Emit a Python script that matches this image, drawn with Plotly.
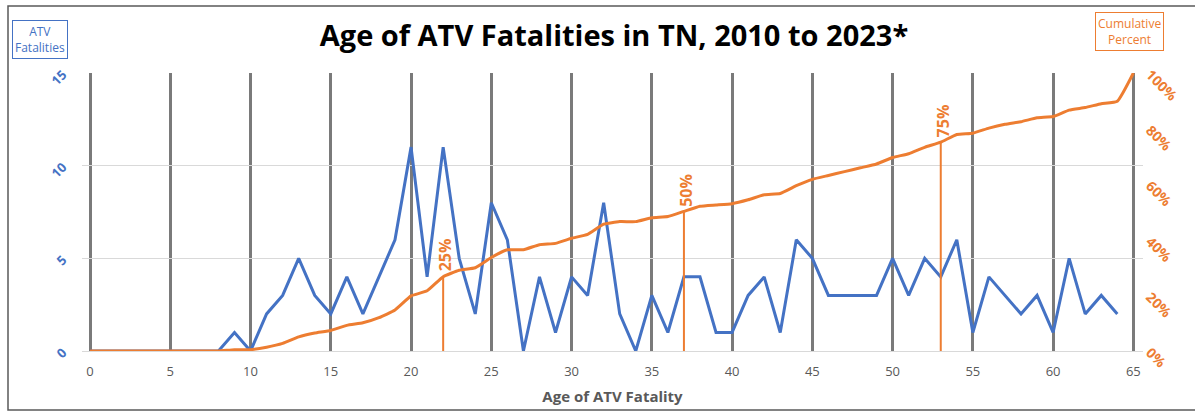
import plotly.graph_objects as go

ages = list(range(0, 66))
fatalities = [0, 0, 0, 0, 0, 0, 0, 0, 0, 1,
              0, 2, 3, 5, 3, 2, 4, 2, 4, 6,
              11, 4, 11, 5, 2, 8, 6, 0, 4, 1,
              4, 3, 8, 2, 0, 3, 1, 4, 4, 1,
              1, 3, 4, 1, 6, 5, 3, 3, 3, 3,
              5, 3, 5, 4, 6, 1, 4, 3, 2, 3,
              1, 5, 2, 3, 2]
fat_ages = ages[:65]
cum_pct = [0, 0, 0, 0, 0, 0, 0, 0, 0, 0.46,
           0.46, 1.38, 2.76, 5.07, 6.45, 7.37, 9.22, 10.14, 11.98, 14.75,
           19.82, 21.66, 26.73, 29.03, 29.95, 33.64, 36.41, 36.41, 38.25, 38.71,
           40.55, 41.94, 45.62, 46.54, 46.54, 47.93, 48.39, 50.23, 52.07, 52.53,
           53.00, 54.38, 56.22, 56.68, 59.45, 61.75, 63.13, 64.52, 65.90, 67.28,
           69.59, 70.97, 73.27, 75.12, 77.88, 78.34, 80.18, 81.57, 82.49, 83.87,
           84.33, 86.64, 87.56, 88.94, 89.86, 100.0]
quart_labels = ["25%", "50%", "75%"]
quart_ages = [22, 37, 53]
quart_vals = [26.73, 50.23, 75.12]

BLUE = "#4472C4"
ORANGE = "#ED7D31"
GREY = "#595959"
FONT = "'Open Sans', sans-serif"

W, H = 1195, 412
L, R, T, B = 82, 52, 73, 61
pw, ph = W - L - R, H - T - B

def px(x):
    return (x - L) / pw

def py(y):
    return (H - B - y) / ph

fig = go.Figure()

fig.add_trace(go.Scatter(x=fat_ages, y=fatalities, mode="lines",
                         line=dict(color=BLUE, width=3), name="ATV Fatalities",
                         yaxis="y"))
fig.add_trace(go.Scatter(x=ages, y=cum_pct, mode="lines",
                         line=dict(color=ORANGE, width=3, shape="spline", smoothing=0.4),
                         name="Cumulative Percent", yaxis="y2"))
for a, v in zip(quart_ages, quart_vals):
    fig.add_trace(go.Scatter(x=[a, a], y=[0, v], mode="lines",
                             line=dict(color=ORANGE, width=2), yaxis="y2",
                             showlegend=False, hoverinfo="skip"))

annotations = []
for lab, a, v in zip(quart_labels, quart_ages, quart_vals):
    annotations.append(dict(x=a, y=v, xref="x", yref="y2", text=f"<b>{lab}</b>",
                            showarrow=False, textangle=-90, xanchor="center",
                            yanchor="bottom", yshift=3, xshift=2,
                            font=dict(color=ORANGE, size=16, family=FONT)))

annotations.append(dict(x=px(40), y=py(39.5), xref="paper", yref="paper",
                        text="ATV<br>Fatalities", showarrow=False,
                        font=dict(color=BLUE, size=12, family=FONT),
                        bordercolor=BLUE, borderwidth=1, borderpad=2,
                        bgcolor="white", xanchor="center", yanchor="middle"))
annotations.append(dict(x=px(1129), y=py(31), xref="paper", yref="paper",
                        text="Cumulative<br>Percent", showarrow=False,
                        font=dict(color=ORANGE, size=12, family=FONT),
                        bordercolor=ORANGE, borderwidth=1, borderpad=2,
                        bgcolor="white", xanchor="center", yanchor="middle"))

shapes = [dict(type="rect", xref="paper", yref="paper",
               x0=px(8), x1=px(1205), y0=py(410), y1=py(6),
               line=dict(color=GREY, width=1.5), fillcolor="rgba(0,0,0,0)",
               layer="below")]

fig.update_layout(
    width=W, height=H,
    margin=dict(l=L, r=R, t=T, b=B, autoexpand=False),
    paper_bgcolor="white", plot_bgcolor="white",
    showlegend=False,
    title=dict(text="<b>Age of ATV Fatalities in TN, 2010 to 2023*</b>",
               xref="container", x=614 / W, xanchor="center",
               y=1 - 36 / H, yanchor="middle",
               font=dict(size=29, color="black", family=FONT)),
    xaxis=dict(range=[-0.5, 65.6], tickmode="linear", tick0=0, dtick=5,
               automargin=False,
               showgrid=True, gridcolor="#7a7a7a", gridwidth=3,
               zeroline=False, showline=True, linecolor="#d9d9d9", linewidth=1,
               ticks="", tickfont=dict(size=13, color=GREY, family=FONT),
               ticklabelstandoff=8,
               title=dict(text="<b>Age of ATV Fatality</b>", standoff=12,
                          font=dict(size=15, color=GREY, family=FONT))),
    yaxis=dict(range=[0, 15], tickmode="linear", tick0=0, dtick=5,
               automargin=False,
               showgrid=True, gridcolor="#d9d9d9", gridwidth=1, zeroline=False,
               tickangle=-45, ticks="", ticklabelstandoff=18,
               tickprefix="<b>", ticksuffix="</b>",
               tickfont=dict(size=13, color=BLUE, family=FONT)),
    yaxis2=dict(range=[0, 100], overlaying="y", side="right", tickmode="linear",
                automargin=False,
                tick0=0, dtick=20, ticksuffix="%", showgrid=False, zeroline=False,
                tickangle=45, ticks="", ticklabelstandoff=6,
                tickfont=dict(size=14, color=ORANGE, family=FONT, weight="bold")),
    annotations=annotations,
    shapes=shapes,
)

fig.write_html("out.html", config={"displayModeBar": False},
               post_script="document.body.style.margin='0px';document.body.style.overflow='hidden';")
